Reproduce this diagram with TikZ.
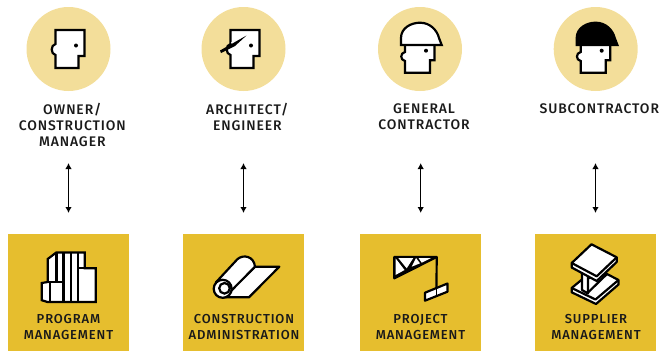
\documentclass[tikz,border=0pt]{standalone}
\usepackage{fontspec}
\setmainfont{Fira Sans Medium}[LetterSpace=6.5]
\usetikzlibrary{arrows.meta}
\definecolor{discyellow}{HTML}{F3DE9A}
\definecolor{boxyellow}{HTML}{E6BE2E}
\definecolor{inkblack}{HTML}{1A1A1A}
\tikzset{
  disc/.style={circle,fill=discyellow,minimum size=84pt,inner sep=0pt},
  boxtile/.style={fill=boxyellow,minimum width=121pt,minimum height=117pt,inner sep=0pt},
  rolelabel/.style={align=center,text=inkblack,inner sep=0pt,font=\fontsize{13.9}{16}\selectfont},
  tasklabel/.style={align=center,text=inkblack,inner sep=0pt,font=\fontsize{13}{16}\selectfont},
  twoway/.style={{Latex[length=6pt,width=6.5pt]}-{Latex[length=6pt,width=6.5pt]},line width=1.2pt},
  icon/.style={line width=2.2pt,line join=miter,draw=black,fill=white}
}
\begin{document}
\begin{tikzpicture}[x=1pt,y=-1pt]
  \useasboundingbox (0,0) rectangle (659,351);

  \node[disc] (owner) at (68.5,49) {};
  \node[disc] (architect) at (243.5,49) {};
  \node[disc] (general) at (420,49) {};
  \node[disc] (sub) at (595.7,49) {};

  \node[boxtile] (program) at (68.5,292.5) {};
  \node[boxtile] (admin) at (243.5,292.5) {};
  \node[boxtile] (project) at (420.5,292.5) {};
  \node[boxtile] (supplier) at (595.5,292.5) {};

  \node[rolelabel] (ownerlabel) at (72.3,124.7) {OWNER/\\CONSTRUCTION\\MANAGER};
  \node[rolelabel] (architectlabel) at (247.3,116.7) {ARCHITECT/\\ENGINEER};
  \node[rolelabel] (generallabel) at (424,116.7) {GENERAL\\CONTRACTOR};
  \node[rolelabel] (sublabel) at (599.3,108.7) {SUBCONTRACTOR};

  \node[tasklabel] (programlabel) at (68.5,327) {PROGRAM\\MANAGEMENT};
  \node[tasklabel] (adminlabel) at (244,327) {CONSTRUCTION\\ADMINISTRATION};
  \node[tasklabel] (projectlabel) at (420.5,327) {PROJECT\\MANAGEMENT};
  \node[tasklabel] (supplierlabel) at (596,327) {SUPPLIER\\MANAGEMENT};

  \coordinate (ownertop) at (68.5,163);
  \coordinate (ownerend) at (68.5,213);
  \coordinate (architecttop) at (243.5,163);
  \coordinate (architectend) at (243.5,213);
  \coordinate (generaltop) at (420.7,163);
  \coordinate (generalend) at (420.7,213);
  \coordinate (subtop) at (595.5,163);
  \coordinate (subend) at (595.5,213);
  \draw[twoway] (ownertop) -- (ownerend);
  \draw[twoway] (architecttop) -- (architectend);
  \draw[twoway] (generaltop) -- (generalend);
  \draw[twoway] (subtop) -- (subend);

  % faces
  \draw[icon] (55.5,30) -- (84.5,30) -- (84.5,56) -- (78.5,56) -- (78.5,68) -- (55.5,68) -- (55.5,55)
    .. controls (50.5,54) and (50.5,45) .. (55.5,44) -- cycle;
  \fill (76,45.5) circle (2);

  \draw[icon] (230.5,30) -- (259.5,30) -- (259.5,56) -- (253.5,56) -- (253.5,68) -- (230.5,68) -- (230.5,55)
    .. controls (225.5,54) and (225.5,45) .. (230.5,44) -- cycle;
  \fill (251,45.5) circle (2);
  \draw[white,line width=1.5pt] (231.5,43) -- (245,34);
  \fill (220,50.5) -- (246.5,35.5) -- (235,46) -- (221,53) -- cycle;

  \draw[icon] (405,45) -- (405,52) .. controls (400,53) and (400,60) .. (405,61) -- (405,72.7) -- (430,72.7) -- (430,60.3) -- (434.5,60.3) -- (434.5,45);
  \draw[icon] (401,45) -- (401,38) .. controls (401,28) and (411,22.7) .. (420,22.7) .. controls (430,22.7) and (437,30) .. (439,38) -- (441.7,45) -- cycle;
  \fill (426,50.7) circle (2);

  \draw[icon] (580.7,45) -- (580.7,52) .. controls (575.7,53) and (575.7,60) .. (580.7,61) -- (580.7,72.7) -- (605.7,72.7) -- (605.7,60.3) -- (610.2,60.3) -- (610.2,45);
  \draw[icon,fill=black] (576.7,45) -- (576.7,38) .. controls (576.7,28) and (586.7,22.7) .. (595.7,22.7) .. controls (605.7,22.7) and (612.7,30) .. (614.7,38) -- (617.4,45) -- cycle;
  \fill (601.7,50.7) circle (2);

  % buildings
  \draw[icon] (47.7,281) -- (47.7,259) -- (56.3,252.5) -- (84.7,252.5) -- (84.7,268.3) -- (95.7,268.3) -- (95.7,302) -- (47.5,302) -- (41.7,300.2) -- (41.7,283) -- (47.7,282) -- cycle;
  \draw[line width=2.4pt] (56.3,252.5) -- (56.3,282);
  \draw[line width=2.4pt] (63.3,252.5) -- (63.3,302);
  \draw[line width=2.4pt] (70.7,252.5) -- (70.7,302);
  \draw[line width=2.4pt] (77.7,252.5) -- (77.7,302);
  \draw[line width=2.2pt] (47.7,282) -- (63.3,282);
  \draw[line width=2.2pt] (50,282) -- (50,302);
  \draw[line width=2.2pt] (77.7,268.3) -- (84.7,268.3);

  % plan roll
  \draw[icon,line join=round] (255,266.7) -- (279.3,266.7) -- (249,297.3) -- (223,297.3) -- cycle;
  \draw[icon,line join=round] (216,282.3) -- (237.3,259.3) .. controls (243,254) and (254,256) .. (255,266.7) -- (230,292) -- cycle;
  \draw[icon] (222.7,288.8) circle (9);
  \draw[icon] (224.5,288.3) circle (5.3);

  % crane
  \fill[line width=2.2pt,draw=black,line join=round] (394.3,257) -- (436.7,257) -- (394.3,278.3) -- cycle;
  \fill[white] (395.7,258.5) -- (395.5,275) -- (404.5,270) -- cycle;
  \fill[white] (398.3,258) -- (413.3,258) -- (406.7,268.3) -- cycle;
  \fill[white] (416,258) -- (411.7,266.7) -- (420,263.3) -- cycle;
  \fill[white] (418.5,258) -- (431,258) -- (421.7,262.7) -- cycle;
  \draw[line width=2.2pt] (436.7,257) -- (436.5,288);
  \draw[icon,line join=round] (425,292.7) -- (447.5,283.5) -- (447.5,291.7) -- (425,300.7) -- cycle;
  \draw[line width=1.6pt] (436.5,288) -- (436.5,296);

  % steel beam
  \draw[icon,line join=round] (571.7,288) -- (581.7,279.7) -- (607,274) -- (618.5,280) -- (618.5,284.5) -- (596,304) -- (571.7,292.3) -- cycle;
  \draw[line width=2.2pt,line join=round] (571.7,288) -- (595.5,299.5) -- (618.5,280);
  \draw[icon,line join=round] (582,272) -- (582,290) -- (588,293.5) -- (588,272) -- cycle;
  \draw[line width=2.2pt] (587.5,293) -- (607,274);
  \draw[icon,line join=round] (571.7,263) -- (591.5,244.3) -- (616.7,257.3) -- (616.7,262) -- (596.7,281) -- (571.7,267.5) -- cycle;
  \draw[line width=2.2pt,line join=round] (571.7,263) -- (596.7,276.3) -- (616.7,257.3);
\end{tikzpicture}
\end{document}
